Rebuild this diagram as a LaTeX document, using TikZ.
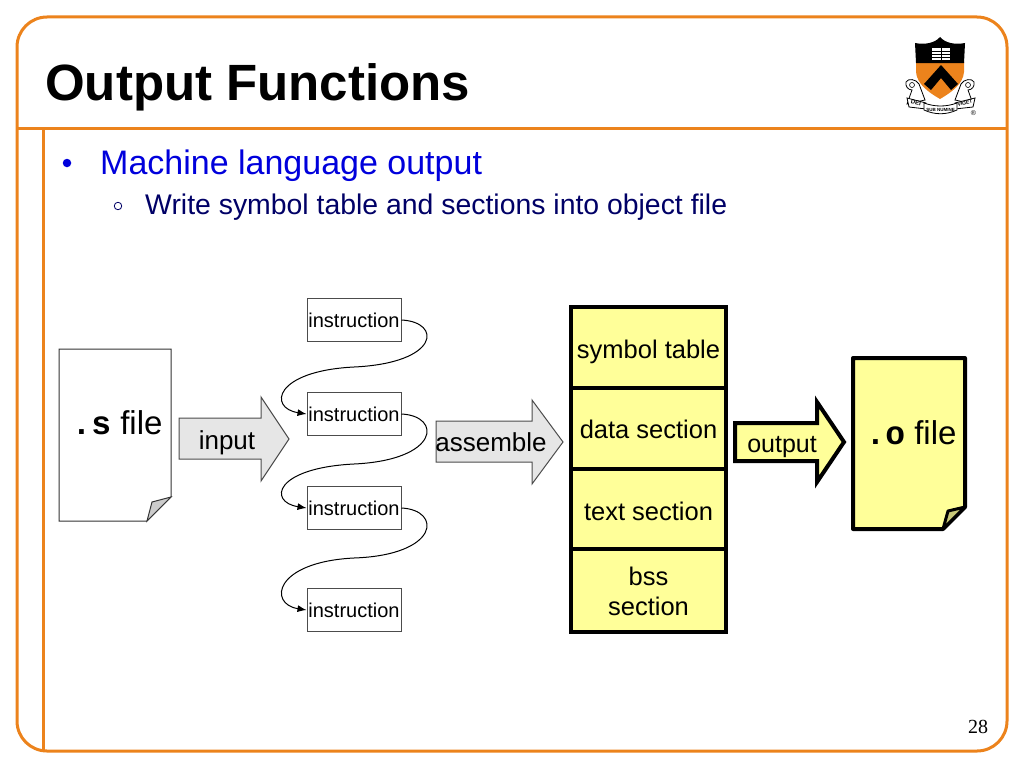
\documentclass[tikz,border=0pt]{standalone}
\usepackage{fontspec}
\usetikzlibrary{arrows.meta}
\setmainfont{Liberation Sans}
\setmonofont{Liberation Mono}
\newfontfamily\pagefont{Liberation Serif}
\newcommand{\pxfont}[1]{\fontsize{#1}{#1}\selectfont}
\newcommand{\lowered}[2]{\raisebox{-#1pt}[\height][\depth]{#2}}
\definecolor{morange}{RGB}{236,131,28}
\definecolor{myellow}{RGB}{255,255,153}
\definecolor{mfold}{RGB}{200,200,120}
\definecolor{mgray}{RGB}{230,230,230}
\definecolor{mblue}{RGB}{0,0,220}
\definecolor{mnavy}{RGB}{0,0,102}
\begin{document}
\begin{tikzpicture}[
    x=1pt,
    y=-1pt,
    black,
    frameline/.style={morange, line width=3pt},
    instrbox/.style={draw=black!70,
        fill=white,
        line width=1pt,
        inner sep=0pt,
        minimum width=94pt,
        minimum height=43pt,
        font=\pxfont{20}},
    secbox/.style={draw,
        fill=myellow,
        line width=3.5pt,
        inner sep=0pt,
        minimum width=155pt,
        align=center,
        font=\pxfont{25.5}},
    flow/.style={line width=1pt, -{Latex[length=9pt,width=7pt]}},
    plain/.style={inner sep=0pt, anchor=base}]

\useasboundingbox (0,0) rectangle (1024,768);

% Slide frame
\draw[frameline, rounded corners=30pt] (17,17) rectangle (1007,751);
\draw[frameline] (17,128) -- (1007,128);
\draw[frameline] (43,128) -- (43,751);

% Title and bullets
\node[plain, anchor=base west, font=\bfseries\pxfont{51}] (title) at (45,100) {Output Functions};
\node[fill=mblue, circle, minimum size=8.5pt, inner sep=0pt] (dot1) at (67,163) {};
\node[plain, anchor=base west, mblue, font=\pxfont{34}] (line1) at (100,174) {Machine language output};
\node[draw=mnavy, circle, line width=0.8pt, minimum size=7.5pt, inner sep=0pt] (dot2) at (118,206) {};
\node[plain, anchor=base west, mnavy, font=\pxfont{28.4}] (line2) at (145,214) {Write symbol table and sections into object file};
\node[plain, font=\pagefont\pxfont{20}] (pagenum) at (978,733) {28};

% Shield
\fill[morange] (916,62) -- (964,62) -- (964,72) .. controls (963,84) and (952,92) .. (940,99)
    .. controls (928,92) and (917,84) .. (916,72) -- cycle;
\fill (915,43) .. controls (925,45) and (935,43) .. (940,37)
    .. controls (945,43) and (955,45) .. (965,43) -- (964,63) -- (916,63) -- cycle;
\fill (941,65) -- (958,84) -- (951,90) -- (941,78) -- (931,90) -- (924,84) -- cycle;
\fill[white] (932,48) rectangle (950,60);
\draw[black, line width=0.7pt] (941,48) -- (941,60) (932,51) -- (950,51) (932,54) -- (950,54) (932,57) -- (950,57);

% Scrolls
\draw[line width=0.8pt, fill=white] (906,82) .. controls (908,78) and (916,79) .. (919,84)
    -- (925,100) -- (907,104) -- (912,90) .. controls (908,90) and (905,86) .. (906,82);
\draw[line width=0.8pt, fill=white] (974,82) .. controls (972,78) and (964,79) .. (961,84)
    -- (955,100) -- (973,104) -- (968,90) .. controls (972,90) and (975,86) .. (974,82);
\draw[line width=0.6pt] (912,85) circle (2.5pt) (968,85) circle (2.5pt);
\draw[line width=0.8pt, fill=white] (907,98) -- (926,103) -- (926,109) -- (909,107) -- cycle;
\draw[line width=0.8pt, fill=white] (975,98) -- (955,103) -- (955,109) -- (973,107) -- cycle;
\draw[line width=0.8pt, fill=white] (924,103) .. controls (935,107) and (946,107) .. (957,103)
    -- (957,110) .. controls (946,115) and (935,115) .. (924,110) -- cycle;
\node[inner sep=0pt, font=\bfseries\pxfont{6}, rotate=-12] (motto1) at (916,103) {DEI};
\node[inner sep=0pt, font=\bfseries\pxfont{4.5}] (motto2) at (940.5,110) {SUB NUMINE};
\node[inner sep=0pt, font=\bfseries\pxfont{5}, rotate=12] (motto3) at (965,103) {VIGET};
\node[inner sep=0pt, font=\pxfont{7}] (regmark) at (973.5,113) {®};

% Source file
\draw[line width=1pt, black!80, fill=white] (59,349) -- (171,349) -- (171,497) -- (147,521) -- (59,521) -- cycle;
\draw[line width=1pt, black!80, fill=black!20] (171,497) -- (152,502) -- (147,521) -- cycle;
\node[plain, font=\pxfont{33}] (sfile) at (117,434) {\texttt{\textbf{.s}} file};

% input arrow
\draw[line width=1pt, black!70, fill=mgray] (179,418) -- (261,418) -- (261,397) -- (289,439)
    -- (261,481) -- (261,459) -- (179,459) -- cycle;
\node[plain, font=\pxfont{26}] (input) at (227,449) {input};

% Instructions
\node[instrbox] (instr1) at (354,320) {instruction};
\node[instrbox] (instr2) at (354,414) {instruction};
\node[instrbox] (instr3) at (354,508) {instruction};
\node[instrbox] (instr4) at (354,610) {instruction};

% Instruction flow
\coordinate (bend1) at (354,367);
\coordinate (bend2) at (354,464);
\coordinate (bend3) at (354,558);
\draw[flow] (instr1.east) .. controls (442,322) and (440,363) .. (bend1)
    .. controls (274,371) and (268,408) .. (instr2.west);
\draw[flow] (instr2.east) .. controls (442,416) and (440,460) .. (bend2)
    .. controls (274,468) and (268,502) .. (instr3.west);
\draw[flow] (instr3.east) .. controls (442,510) and (440,555) .. (bend3)
    .. controls (274,562) and (268,604) .. (instr4.west);

% assemble arrow
\draw[line width=1pt, black!70, fill=mgray] (436,421) -- (532,421) -- (532,400) -- (563,442)
    -- (532,484) -- (532,462) -- (436,462) -- cycle;
\node[plain, font=\pxfont{26}] (assemble) at (491,451.5) {assemble};

% Sections
\node[secbox, minimum height=81pt] (symtab) at (648.5,347.5) {\lowered{4}{symbol table}};
\node[secbox, minimum height=81pt] (datasec) at (648.5,428.5) {\lowered{1}{data section}};
\node[secbox, minimum height=80pt] (textsec) at (648.5,509) {\lowered{2}{text section}};
\node[secbox, minimum height=83pt] (bsssec) at (648.5,590.5) {\lowered{1}{bss}\\[4pt]\lowered{1}{section}};

% output arrow
\draw[line width=4pt, fill=myellow, miter limit=10] (735,423) -- (817,423) -- (817,402) -- (844,442)
    -- (817,482) -- (817,461) -- (735,461) -- cycle;
\node[plain, font=\pxfont{25}] (output) at (782,452) {output};

% Object file
\draw[line width=4pt, line join=round, fill=myellow] (853,358) -- (965,358) -- (965,507) -- (943,529) -- (853,529) -- cycle;
\draw[line width=3pt, line join=round, fill=mfold] (965,507) -- (948,511) -- (943,529) -- cycle;
\node[plain, font=\pxfont{33}] (ofile) at (911,444) {\texttt{\textbf{.o}} file};

\end{tikzpicture}
\end{document}
